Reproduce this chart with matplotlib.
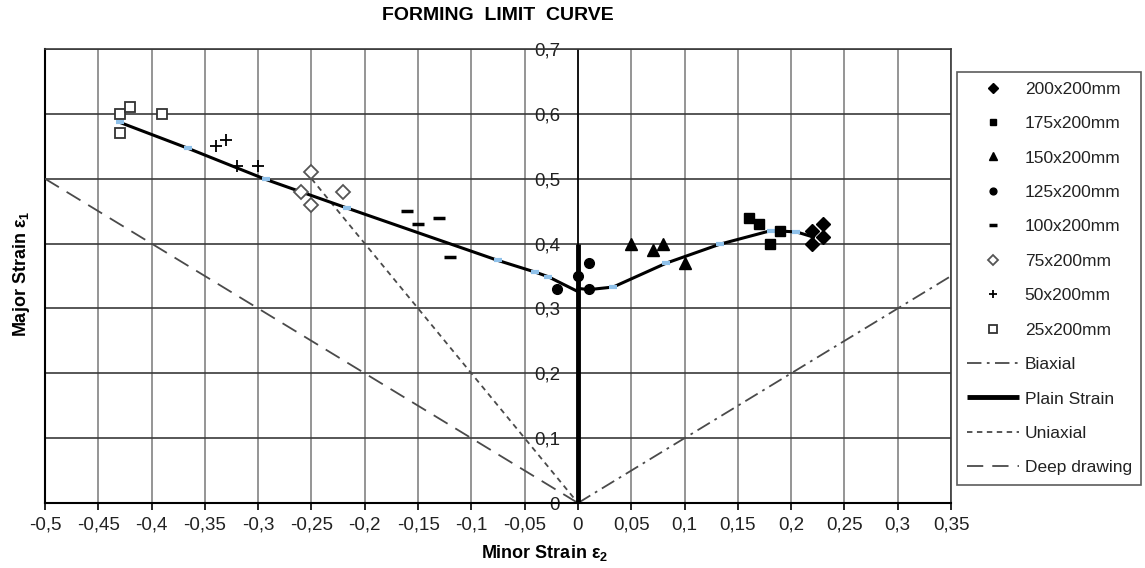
import matplotlib
matplotlib.use("Agg")
import matplotlib.pyplot as plt
from matplotlib.ticker import FixedLocator

plt.rcParams['font.family'] = ['Liberation Sans', 'DejaVu Sans']
plt.rcParams['mathtext.fontset'] = 'custom'
plt.rcParams['mathtext.rm'] = 'Liberation Sans'
plt.rcParams['mathtext.bf'] = 'Liberation Sans:bold'

# measured points per specimen width
s200_x = [0.22, 0.23, 0.23, 0.22]
s200_y = [0.42, 0.43, 0.41, 0.40]
s175_x = [0.16, 0.17, 0.19, 0.18]
s175_y = [0.44, 0.43, 0.42, 0.40]
s150_x = [0.05, 0.07, 0.08, 0.10]
s150_y = [0.40, 0.39, 0.40, 0.37]
s125_x = [-0.02, 0.00, 0.01, 0.01]
s125_y = [0.33, 0.35, 0.37, 0.33]
s100_x = [-0.16, -0.15, -0.13, -0.12]
s100_y = [0.45, 0.43, 0.44, 0.38]
s75_x = [-0.25, -0.26, -0.25, -0.22]
s75_y = [0.51, 0.48, 0.46, 0.48]
s50_x = [-0.34, -0.33, -0.32, -0.30]
s50_y = [0.55, 0.56, 0.52, 0.52]
s25_x = [-0.43, -0.42, -0.39, -0.43]
s25_y = [0.60, 0.61, 0.60, 0.57]

# forming limit curve
flc_left_x = [-0.43, -0.366, -0.293, -0.217, -0.075, -0.040, -0.028, 0.0]
flc_left_y = [0.587, 0.547, 0.499, 0.455, 0.374, 0.356, 0.349, 0.326]
flc_right_x = [0.0, 0.01, 0.033, 0.083, 0.133, 0.181, 0.205, 0.221]
flc_right_y = [0.331, 0.329, 0.333, 0.370, 0.399, 0.420, 0.418, 0.410]
flc_mark_x = [-0.43, -0.366, -0.293, -0.217, -0.075, -0.040, -0.028,
              0.033, 0.083, 0.133, 0.181, 0.205]
flc_mark_y = [0.587, 0.547, 0.499, 0.455, 0.374, 0.356, 0.349,
              0.333, 0.370, 0.399, 0.420, 0.418]

# strain paths
biaxial_x = [0.0, 0.35]
biaxial_y = [0.0, 0.35]
plain_x = [0.0, 0.0]
plain_y = [0.0, 0.40]
uniaxial_x = [-0.25, 0.0]
uniaxial_y = [0.50, 0.0]
deep_x = [-0.5, 0.0]
deep_y = [0.5, 0.0]

x_ticks = [-0.5, -0.45, -0.4, -0.35, -0.3, -0.25, -0.2, -0.15, -0.1, -0.05,
           0.0, 0.05, 0.1, 0.15, 0.2, 0.25, 0.3, 0.35]
x_labels = ['-0,5', '-0,45', '-0,4', '-0,35', '-0,3', '-0,25', '-0,2', '-0,15',
            '-0,1', '-0,05', '0', '0,05', '0,1', '0,15', '0,2', '0,25', '0,3', '0,35']
y_ticks = [0.0, 0.1, 0.2, 0.3, 0.4, 0.5, 0.6, 0.7]
y_labels = ['0', '0,1', '0,2', '0,3', '0,4', '0,5', '0,6', '0,7']

fig = plt.figure(figsize=(11.45, 5.68), dpi=100)
ax = fig.add_axes([0.0393, 0.1144, 0.7913, 0.7993])
ax.set_xlim(-0.5, 0.35)
ax.set_ylim(0, 0.7)

# grid
for xv in x_ticks:
    ax.axvline(xv, color='#8c8c8c', lw=1.3, zorder=0)
for yv in y_ticks:
    ax.axhline(yv, color='#3a3a3a', lw=1.2, zorder=0)
ax.axvline(-0.5, color='black', lw=1.5, zorder=1, clip_on=False)
ax.axvline(0.0, color='black', lw=1.2, zorder=1)

ref_col = '#4a4a4a'
ax.plot(biaxial_x, biaxial_y, color=ref_col, lw=1.3, dashes=(8, 3, 1.5, 3),
        label='Biaxial', zorder=2)
ax.plot(plain_x, plain_y, color='black', lw=3.5, label='Plain Strain',
        zorder=3, solid_capstyle='butt')
ax.plot(uniaxial_x, uniaxial_y, color=ref_col, lw=1.3, dashes=(3, 2.5),
        label='Uniaxial', zorder=2)
ax.plot(deep_x, deep_y, color=ref_col, lw=1.3, dashes=(9, 5),
        label='Deep drawing', zorder=2)

ax.plot(flc_left_x, flc_left_y, color='black', lw=2.2, zorder=4)
ax.plot(flc_right_x, flc_right_y, color='black', lw=2.2, zorder=4)
ax.plot(flc_mark_x, flc_mark_y, ls='none', marker='_', ms=6, mew=3,
        color='#8fc1ea', zorder=5)

ax.plot(s200_x, s200_y, ls='none', marker='D', ms=7, color='black',
        label='200x200mm', zorder=6)
ax.plot(s175_x, s175_y, ls='none', marker='s', ms=7, color='black',
        label='175x200mm', zorder=6)
ax.plot(s150_x, s150_y, ls='none', marker='^', ms=8, color='black',
        label='150x200mm', zorder=6)
ax.plot(s125_x, s125_y, ls='none', marker='o', ms=7, color='black',
        label='125x200mm', zorder=6)
ax.plot(s100_x, s100_y, ls='none', marker='_', ms=9, mew=2.5, color='black',
        label='100x200mm', zorder=6)
ax.plot(s75_x, s75_y, ls='none', marker='D', ms=7.5, mfc='white', mec='#555555',
        mew=1.3, label='75x200mm', zorder=6)
ax.plot(s50_x, s50_y, ls='none', marker='+', ms=9, mew=1.3, color='black',
        label='50x200mm', zorder=6)
ax.plot(s25_x, s25_y, ls='none', marker='s', ms=7.5, mfc='white', mec='#333333',
        mew=1.3, label='25x200mm', zorder=6)

# axes: y axis sits at x = 0
ax.spines['left'].set_position(('data', 0))
ax.spines['left'].set_visible(False)
for side in ['top', 'right']:
    ax.spines[side].set_color('#3a3a3a')
    ax.spines[side].set_linewidth(1.2)
ax.spines['bottom'].set_color('black')
ax.spines['bottom'].set_linewidth(1.5)

ax.xaxis.set_major_locator(FixedLocator(x_ticks))
ax.set_xticklabels(x_labels)
ax.yaxis.set_major_locator(FixedLocator(y_ticks))
ax.set_yticklabels(y_labels)
ax.tick_params(axis='x', direction='out', length=5, width=1.2, pad=5,
               labelsize=13.5, colors='black', labelcolor='#222222')
ax.tick_params(axis='y', length=0, pad=13, labelsize=13.5, labelcolor='#222222')
for lab in ax.get_yticklabels():
    lab.set_zorder(7)

fig.text(498 / 1145, 1 - 15 / 568, 'FORMING  LIMIT  CURVE', ha='center',
         va='center', fontsize=14, fontweight='bold')
fig.text(545 / 1145, 1 - 553 / 568, r'Minor Strain ε$_\mathbf{2}$', ha='center',
         va='center', fontsize=13, fontweight='bold')
fig.text(22 / 1145, 1 - 274 / 568, r'Major Strain ε$_\mathbf{1}$', ha='center',
         va='center', fontsize=13, fontweight='bold', rotation=90)

handles, labels = ax.get_legend_handles_labels()
order = [4, 5, 6, 7, 8, 9, 10, 11, 0, 1, 2, 3]
leg = fig.legend([handles[i] for i in order], [labels[i] for i in order],
                 loc='upper left', bbox_to_anchor=(957 / 1145, 1 - 72 / 568),
                 bbox_transform=fig.transFigure, fontsize=12.5, frameon=True,
                 fancybox=False, edgecolor='#333333', handlelength=3.0,
                 handletextpad=0.35, labelspacing=1.11, markerscale=0.7,
                 borderpad=0.55, borderaxespad=0)
leg.get_frame().set_linewidth(1.2)
for t in leg.get_texts():
    t.set_color('#222222')

fig.savefig('out.png', dpi=100)
